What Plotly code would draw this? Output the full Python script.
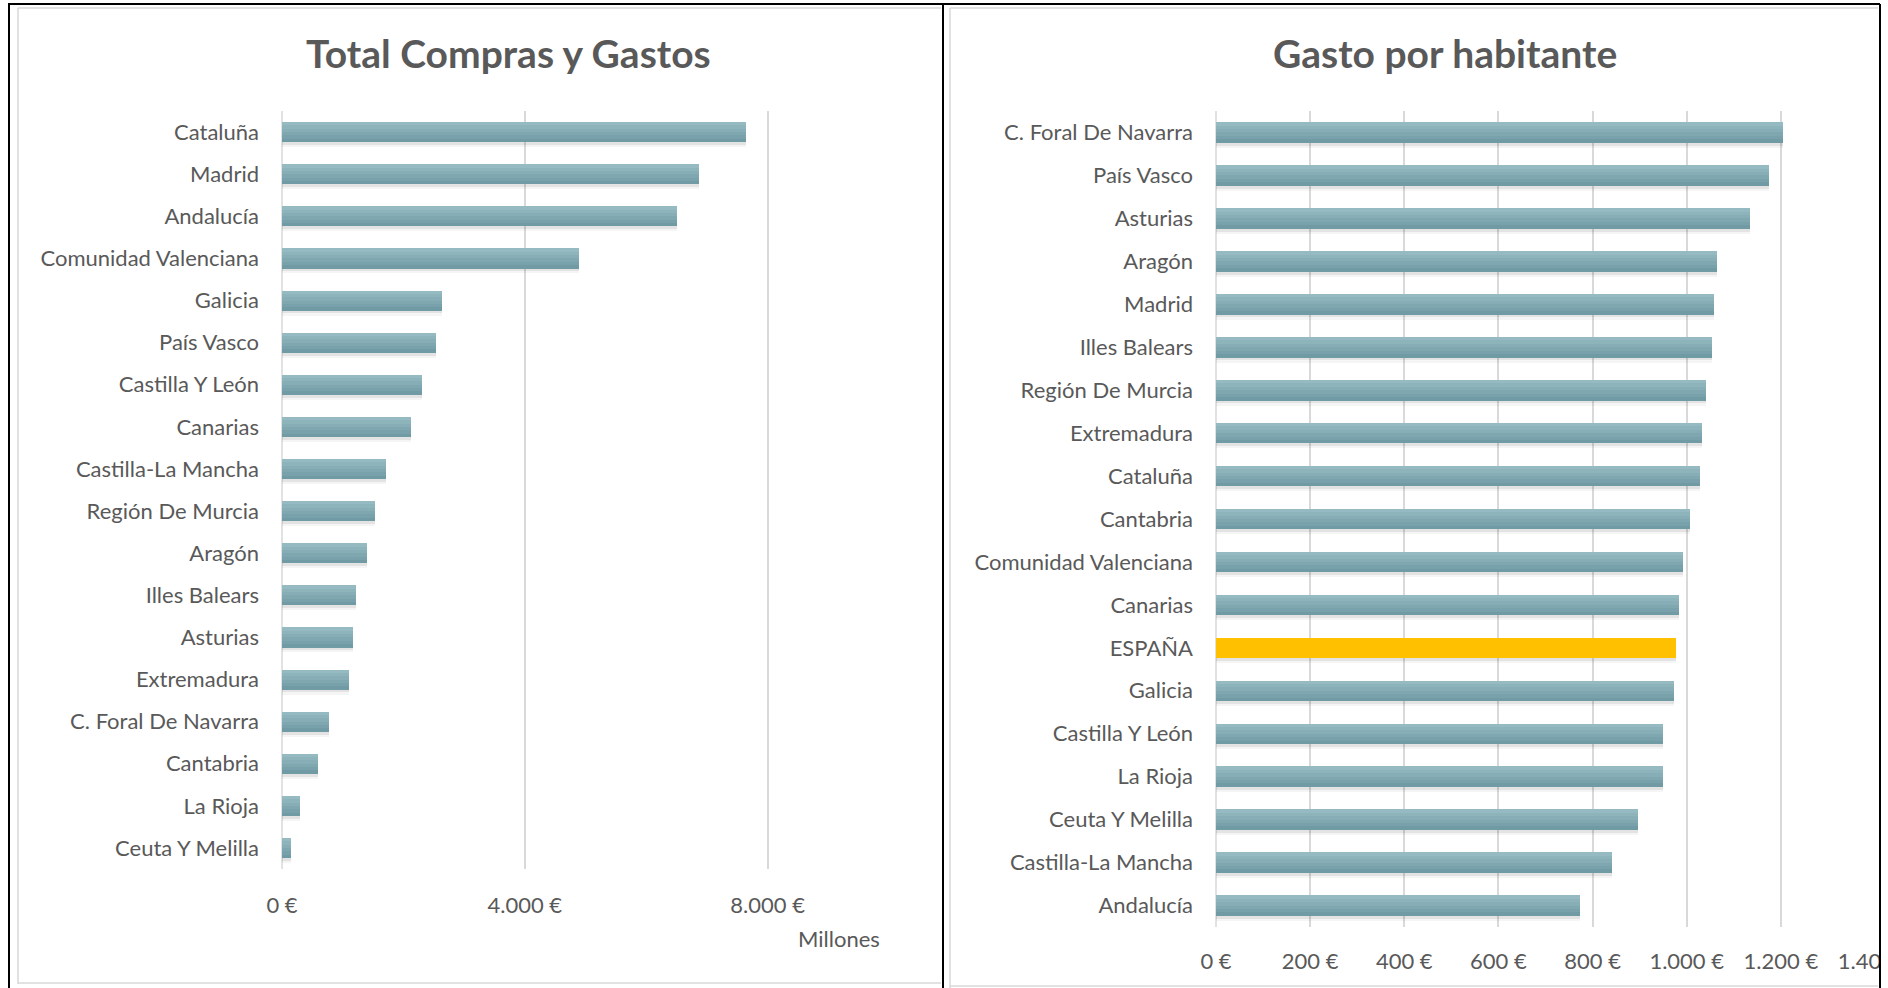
import plotly.graph_objects as go

# ---------------- data ----------------
total_regions = ["Cataluña", "Madrid", "Andalucía", "Comunidad Valenciana", "Galicia",
                 "País Vasco", "Castilla Y León", "Canarias", "Castilla-La Mancha",
                 "Región De Murcia", "Aragón", "Illes Balears", "Asturias", "Extremadura",
                 "C. Foral De Navarra", "Cantabria", "La Rioja", "Ceuta Y Melilla"]
total_values = [7650, 6870, 6500, 4890, 2640, 2540, 2310, 2120, 1710,
                1530, 1400, 1220, 1170, 1100, 770, 590, 300, 150]  # millones €

hab_regions = ["C. Foral De Navarra", "País Vasco", "Asturias", "Aragón", "Madrid",
               "Illes Balears", "Región De Murcia", "Extremadura", "Cataluña", "Cantabria",
               "Comunidad Valenciana", "Canarias", "ESPAÑA", "Galicia", "Castilla Y León",
               "La Rioja", "Ceuta Y Melilla", "Castilla-La Mancha", "Andalucía"]
hab_values = [1205, 1174, 1135, 1064, 1057, 1054, 1041, 1032, 1028, 1008,
              992, 983, 977, 973, 950, 949, 897, 842, 774]  # € por habitante

total_ticks = [0, 4000, 8000]
total_ticktext = ["0 €", "4.000 €", "8.000 €"]
hab_ticks = [0, 200, 400, 600, 800, 1000, 1200, 1400]
hab_ticktext = ["0 €", "200 €", "400 €", "600 €", "800 €", "1.000 €", "1.200 €", "1.400 €"]

# ---------------- style ----------------
W, H = 1888, 988
FONT = "Lato"
TXT = "#595959"
GRID = "#d9d9d9"
TOP_C = (0x96, 0xba, 0xc1)
BOT_C = (0x70, 0x9b, 0xa5)
HIGHLIGHT = "#ffc000"
BAR_W = 0.475
NB = 6


def px(x):
    return x / W


def py(y):
    return 1 - y / H


def lerp(a, b, t):
    return "rgb(%d,%d,%d)" % tuple(round(a[i] + (b[i] - a[i]) * t) for i in range(3))


fig = go.Figure()


def add_bars(cats, vals, xa, ya):
    # soft shadow (two layers)
    for extra, alpha in ((0.10, 0.04), (0.05, 0.07)):
        fig.add_trace(go.Bar(y=cats, x=vals, orientation="h", xaxis=xa, yaxis=ya,
                             width=BAR_W + extra, offset=-BAR_W / 2 + 0.02,
                             marker=dict(color="rgba(0,0,0,%.2f)" % alpha, line=dict(width=0)),
                             hoverinfo="skip", showlegend=False))
    # gradient bands (top light -> bottom dark)
    bw = BAR_W / NB
    for k in range(NB):
        col = lerp(TOP_C, BOT_C, k / (NB - 1))
        colors = [HIGHLIGHT if c == "ESPAÑA" else col for c in cats]
        fig.add_trace(go.Bar(y=cats, x=vals, orientation="h", xaxis=xa, yaxis=ya,
                             width=bw + 0.004, offset=-BAR_W / 2 + k * bw,
                             marker=dict(color=colors, line=dict(width=0)),
                             showlegend=False,
                             hovertemplate="%{y}: %{x}<extra></extra>"))


add_bars(total_regions, total_values, "x", "y")
add_bars(hab_regions, hab_values, "x2", "y2")

TF = dict(family=FONT, size=22, color=TXT)
xcommon = dict(showgrid=True, gridcolor=GRID, gridwidth=1.5, zeroline=False, automargin=False,
               showline=False, ticks="", tickfont=TF, fixedrange=True, ticklabeloverflow="allow")
ycommon = dict(type="category", categoryorder="array", autorange="reversed", showgrid=False,
               zeroline=False, showline=False, ticks="", automargin=False, ticklabelstandoff=22,
               tickfont=TF, fixedrange=True)

fig.update_layout(
    template="none",
    width=W, height=H,
    margin=dict(l=0, r=0, t=0, b=0, pad=0, autoexpand=False),
    paper_bgcolor="white", plot_bgcolor="white",
    barmode="overlay", bargap=0,
    font=dict(family=FONT, color=TXT),
    xaxis=dict(domain=[px(282), px(889)], range=[0, 10000], tickvals=total_ticks,
               ticktext=total_ticktext, anchor="y", ticklabelstandoff=21, **xcommon),
    yaxis=dict(domain=[py(869), py(111)], categoryarray=total_regions, anchor="x", **ycommon),
    xaxis2=dict(domain=[px(1216), px(1875)], range=[0, 1400], tickvals=hab_ticks,
                ticktext=hab_ticktext, anchor="y2", ticklabelstandoff=19, **xcommon),
    yaxis2=dict(domain=[py(927), py(111)], categoryarray=hab_regions, anchor="x2", **ycommon),
)

annotations = [
    dict(text="<b>Total Compras y Gastos</b>", x=px(509), y=py(53), xref="paper", yref="paper",
         xanchor="center", yanchor="middle", showarrow=False,
         font=dict(family=FONT, size=39, color=TXT)),
    dict(text="<b>Gasto por habitante</b>", x=px(1445), y=py(53), xref="paper", yref="paper",
         xanchor="center", yanchor="middle", showarrow=False,
         font=dict(family=FONT, size=39, color=TXT)),
    dict(text="Millones", x=px(839), y=py(938), xref="paper", yref="paper",
         xanchor="center", yanchor="middle", showarrow=False,
         font=dict(family=FONT, size=22, color=TXT)),
]
fig.update_layout(annotations=annotations)


def line(x0, y0, x1, y1, color, w, layer="above"):
    return dict(type="line", xref="paper", yref="paper", x0=px(x0), y0=py(y0),
                x1=px(x1), y1=py(y1), line=dict(color=color, width=w), layer=layer)


shapes = [
    # clip area on the right
    dict(type="rect", xref="paper", yref="paper", x0=px(1880), x1=1.0, y0=0, y1=1,
         fillcolor="white", line=dict(width=0), layer="above"),
    # inner light borders
    line(18, 8, 941, 8, "#d9d9d9", 1.5), line(18, 8, 18, 984, "#d9d9d9", 1.5),
    line(18, 983, 941, 983, "#d9d9d9", 1.5),
    line(950, 8, 1878, 8, "#d9d9d9", 1.5), line(950, 8, 950, 988, "#d9d9d9", 1.5),
    line(950, 986, 1878, 986, "#d9d9d9", 1.5),
    # black outer frame
    line(8, 4, 1880, 4, "black", 2), line(9, 4, 9, 988, "black", 2),
    line(943, 4, 943, 988, "black", 2), line(1880, 4, 1880, 988, "black", 2),
    # axis base lines
    line(282, 111, 282, 869, GRID, 1.5, "below"), line(1216, 111, 1216, 927, GRID, 1.5, "below"),
]
fig.update_layout(shapes=shapes)

fig.write_html("out.html", config={"displayModeBar": False},
               post_script="document.body.style.margin='0';document.body.style.overflow='hidden';")
